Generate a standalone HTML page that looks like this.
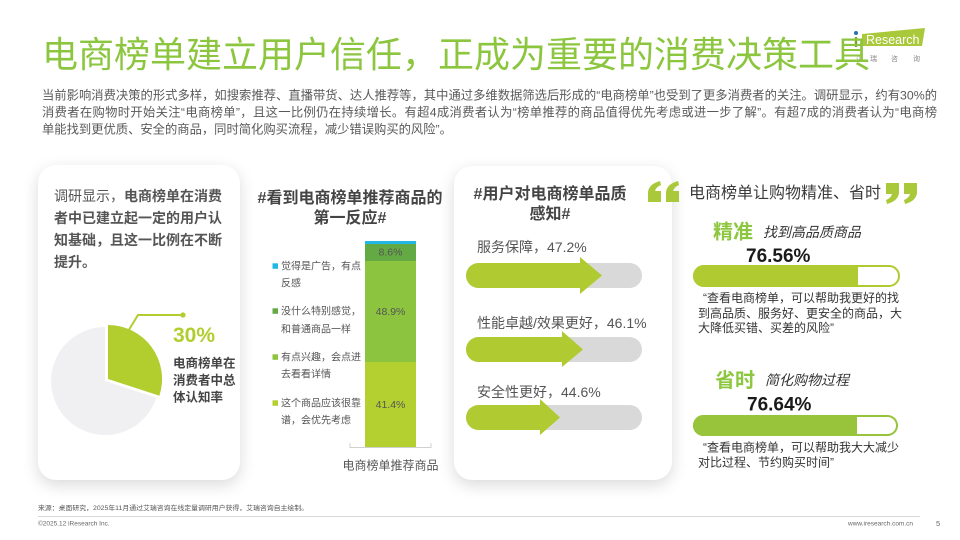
<!DOCTYPE html>
<html>
<head>
<meta charset="utf-8">
<style>
html,body{margin:0;padding:0;background:#fff;}
body{width:960px;height:540px;position:relative;overflow:hidden;font-family:"Liberation Sans","Noto Sans CJK SC",sans-serif;}
.card{position:absolute;background:#fff;border-radius:18px;box-shadow:0 5px 16px rgba(0,0,0,0.15);}
svg{position:absolute;left:0;top:0;}
</style>
</head>
<body>
<div class="card" style="left:38px;top:165px;width:202px;height:315px;"></div>
<div class="card" style="left:454px;top:166px;width:218px;height:314px;"></div>

<svg width="960" height="540" viewBox="0 0 960 540" xmlns="http://www.w3.org/2000/svg" font-family="Liberation Sans, Noto Sans CJK SC, sans-serif">
  <!-- logo -->
  <polygon points="862,34 925,28 922,46 862,46" fill="#a9c83a"/>
  <text x="866" y="44" font-size="12.5" fill="#fff">Research</text>
  <circle cx="856" cy="33" r="2" fill="#2a6fb5"/>
  <rect x="854.8" y="37" width="2.4" height="10" fill="#7c9c2c"/>
  <g font-size="7" fill="#8a8a8a">
    <text x="855" y="61">艾</text>
    <text x="870" y="61">瑞</text>
    <text x="891" y="61">咨</text>
    <text x="913" y="61">询</text>
  </g>

  <!-- title -->
  <text x="42" y="67" font-size="36" fill="#8cc63f">电商榜单建立用户信任，正成为重要的消费决策工具</text>

  <!-- intro -->
  <g font-size="12.3" fill="#595959">
    <text x="42" y="99.5" textLength="895" lengthAdjust="spacing">当前影响消费决策的形式多样，如搜索推荐、直播带货、达人推荐等，其中通过多维数据筛选后形成的“电商榜单”也受到了更多消费者的关注。调研显示，约有30%的</text>
    <text x="42" y="116.5" textLength="895" lengthAdjust="spacing">消费者在购物时开始关注“电商榜单”，且这一比例仍在持续增长。有超4成消费者认为“榜单推荐的商品值得优先考虑或进一步了解”。有超7成的消费者认为“电商榜</text>
    <text x="42" y="133.5">单能找到更优质、安全的商品，同时简化购买流程，减少错误购买的风险”。</text>
  </g>

  <!-- left card text -->
  <g font-size="14" fill="#555">
    <text x="54" y="201"><tspan>调研显示，</tspan><tspan font-weight="bold">电商榜单在消费</tspan></text>
    <text x="54" y="223" font-weight="bold">者中已建立起一定的用户认</text>
    <text x="54" y="245" font-weight="bold">知基础，且这一比例在不断</text>
    <text x="54" y="267" font-weight="bold">提升。</text>
  </g>

  <!-- pie -->
  <path d="M105,381 L156.4,397.7 A54,54 0 1 1 105,327 Z" fill="#f0f0f2"/>
  <path d="M108,379 L108,325 A54,54 0 0 1 159.4,395.7 Z" fill="#b1cd2e"/>
  <polyline points="127,333 138,315 183,315" fill="none" stroke="#b1cd2e" stroke-width="2"/>
  <circle cx="183" cy="315" r="2.6" fill="#b1cd2e"/>
  <text x="173" y="342" font-size="21" font-weight="bold" fill="#b1cd2e">30%</text>
  <g font-size="12.5" font-weight="bold" fill="#444">
    <text x="173" y="367.5">电商榜单在</text>
    <text x="173" y="384.5">消费者中总</text>
    <text x="173" y="401.5">体认知率</text>
  </g>

  <!-- stacked bar chart -->
  <g font-size="16" font-weight="bold" fill="#444" text-anchor="middle">
    <text x="350" y="203">#看到电商榜单推荐商品的</text>
    <text x="350" y="223">第一反应#</text>
  </g>
  <rect x="365" y="241" width="51" height="3" fill="#22b8e6"/>
  <rect x="365" y="244" width="51" height="17" fill="#64aa44"/>
  <rect x="365" y="261" width="51" height="101" fill="#8cc440"/>
  <rect x="365" y="362" width="51" height="85" fill="#b3cf30"/>
  <g font-size="10.5" fill="#555" text-anchor="middle">
    <text x="390.5" y="255.7">8.6%</text>
    <text x="390.5" y="315">48.9%</text>
    <text x="390.5" y="408">41.4%</text>
  </g>
  <path d="M350,443 V447.5 H431 V443" fill="none" stroke="#d0d0d0" stroke-width="1"/>
  <text x="390.5" y="469.5" font-size="12" fill="#555" text-anchor="middle">电商榜单推荐商品</text>
  <!-- legend -->
  <rect x="272.5" y="263.3" width="5.5" height="5.5" fill="#22b8e6"/>
  <rect x="272.5" y="308.3" width="5.5" height="5.5" fill="#64aa44"/>
  <rect x="272.5" y="354.3" width="5.5" height="5.5" fill="#8cc440"/>
  <rect x="272.5" y="400.3" width="5.5" height="5.5" fill="#b3cf30"/>
  <g font-size="10" fill="#555">
    <text x="281" y="269.7">觉得是广告，有点</text>
    <text x="281" y="286.7">反感</text>
    <text x="281" y="314.7">没什么特别感觉，</text>
    <text x="281" y="332.7">和普通商品一样</text>
    <text x="281" y="360.7">有点兴趣，会点进</text>
    <text x="281" y="377.7">去看看详情</text>
    <text x="281" y="406.7">这个商品应该很靠</text>
    <text x="281" y="423.7">谱，会优先考虑</text>
  </g>

  <!-- third card -->
  <g font-size="16" font-weight="bold" fill="#444" text-anchor="middle">
    <text x="550" y="199">#用户对电商榜单品质</text>
    <text x="550" y="219">感知#</text>
  </g>
  <g font-size="14" fill="#555">
    <text x="477" y="252">服务保障，47.2%</text>
    <text x="477" y="328">性能卓越/效果更好，46.1%</text>
    <text x="477" y="397">安全性更好，44.6%</text>
  </g>
  <rect x="466" y="263" width="176" height="25" rx="12.5" fill="#d9d9d9"/>
  <path d="M478.5,263 H580 V288 H478.5 A12.5,12.5 0 0 1 478.5,263 Z" fill="#afcb31"/>
  <polygon points="580,257 580,294 602,275.5" fill="#afcb31"/>
  <rect x="466" y="337" width="176" height="25" rx="12.5" fill="#d9d9d9"/>
  <path d="M478.5,337 H562 V362 H478.5 A12.5,12.5 0 0 1 478.5,337 Z" fill="#afcb31"/>
  <polygon points="562,331 562,367 583,349.5" fill="#afcb31"/>
  <rect x="466" y="405" width="176" height="25" rx="12.5" fill="#d9d9d9"/>
  <path d="M478.5,405 H540 V430 H478.5 A12.5,12.5 0 0 1 478.5,405 Z" fill="#afcb31"/>
  <polygon points="540,399 540,435 560,417.5" fill="#afcb31"/>

  <!-- fourth section -->
  <g fill="#a9c83a">
    <path d="M648,192 Q649,184 660,181 L661,185 Q656,187 655,191 L661,191 L661,202 L648,202 Z"/>
    <path d="M666,192 Q667,184 678,181 L679,185 Q674,187 673,191 L679,191 L679,202 L666,202 Z"/>
    <path d="M899,193 Q898,201 887,204 L886,200 Q891,198 892,194 L886,194 L886,183 L899,183 Z"/>
    <path d="M917,193 Q916,201 905,204 L904,200 Q909,198 910,194 L904,194 L904,183 L917,183 Z"/>
  </g>
  <text x="689" y="198" font-size="16" fill="#3a3a3a">电商榜单让购物精准、省时</text>

  <text x="713" y="238.4" font-size="20" font-weight="bold" fill="#8dc63f">精准</text>
  <text x="763" y="237" font-size="14" font-style="italic" fill="#333">找到高品质商品</text>
  <text x="746" y="262" font-size="19" font-weight="bold" fill="#1a1a1a">76.56%</text>
  <rect x="694" y="266" width="205" height="20" rx="10" fill="#fff" stroke="#afcb31" stroke-width="2"/>
  <path d="M704,265 H858 V287 H704 A11,11 0 0 1 704,265 Z" fill="#afcb31"/>
  <g font-size="12" fill="#333">
    <text x="703" y="302">“查看电商榜单，可以帮助我更好的找</text>
    <text x="698" y="317.5">到高品质、服务好、更安全的商品，大</text>
    <text x="698" y="332">大降低买错、买差的风险”</text>
  </g>

  <text x="715" y="387" font-size="20" font-weight="bold" fill="#8dc63f">省时</text>
  <text x="765" y="385" font-size="14" font-style="italic" fill="#333">简化购物过程</text>
  <text x="747" y="410.5" font-size="19" font-weight="bold" fill="#1a1a1a">76.64%</text>
  <rect x="694" y="416" width="203" height="19" rx="9.5" fill="#fff" stroke="#97c43a" stroke-width="2"/>
  <path d="M703.5,415 H857 V436 H703.5 A10.5,10.5 0 0 1 703.5,415 Z" fill="#97c43a"/>
  <g font-size="12" fill="#333">
    <text x="703" y="451.5">“查看电商榜单，可以帮助我大大减少</text>
    <text x="698" y="466.5">对比过程、节约购买时间”</text>
  </g>

  <!-- footer -->
  <text x="38" y="510" font-size="6.5" fill="#555" textLength="270" lengthAdjust="spacingAndGlyphs">来源：桌面研究，2025年11月通过艾瑞咨询在线定量调研用户获得，艾瑞咨询自主绘制。</text>
  <line x1="38" y1="516.5" x2="920" y2="516.5" stroke="#d9d9d9" stroke-width="1"/>
  <text x="38" y="525.5" font-size="6.5" fill="#666">©2025.12 iResearch Inc.</text>
  <text x="848" y="525.5" font-size="6.5" fill="#666">www.iresearch.com.cn</text>
  <text x="936" y="526" font-size="7.5" fill="#666">5</text>
</svg>
</body>
</html>
